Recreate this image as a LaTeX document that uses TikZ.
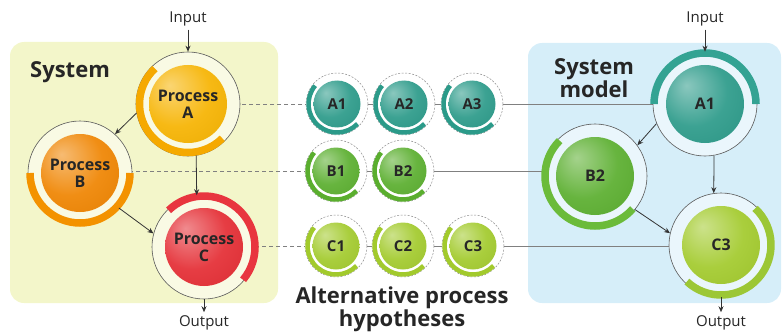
\documentclass[tikz,border=0pt]{standalone}
\usepackage{fontspec}
\setmainfont{Open Sans}
\usetikzlibrary{arrows.meta,calc}
\definecolor{ybg}{HTML}{F3F6CA}
\definecolor{bbg}{HTML}{D6EEF9}
\definecolor{cA}{HTML}{F6B300}
\definecolor{cAarc}{HTML}{F5A900}
\definecolor{cB}{HTML}{EF8400}
\definecolor{cBarc}{HTML}{F39200}
\definecolor{cC}{HTML}{E42C33}
\definecolor{cCarc}{HTML}{E8353F}
\definecolor{tA}{HTML}{2B9A89}
\definecolor{tAarc}{HTML}{33A393}
\definecolor{gB}{HTML}{5AAE2E}
\definecolor{gBarc}{HTML}{6BBB3A}
\definecolor{lC}{HTML}{A2CA2C}
\definecolor{lCarc}{HTML}{9CC735}
\colorlet{sphcol}{red}
\pgfdeclareradialshading[sphcol]{sphere}{\pgfpoint{-12bp}{12bp}}{%
  color(0bp)=(sphcol!55!white); color(22bp)=(sphcol!92!white); color(45bp)=(sphcol!95!black); color(62bp)=(sphcol!82!black)}
\pgfdeclarelayer{bg}
\pgfsetlayers{bg,main}
\newcommand\BigProc[9]{%
  \node[ring, fill=#3] (#1) at (#2) {};
  \draw[line width=7.5pt, draw=#5] ($(#1.center)+(#6:#9)$) arc[start angle=#6, end angle=#7, radius=#9];
  \colorlet{sphcol}{#4}%
  \shade[shading=sphere] (#1.center) circle[radius=39];
  \node[lbl] (#1-t) at (#1.center) {#8};
}
\newcommand\HypC[4]{%
  \node[hring] (#1) at (#2) {};
  \draw[line width=4.5pt, draw=#3] ($(#1.center)+(140:28.5)$) arc[start angle=140, end angle=316, radius=28.5];
  \colorlet{sphcol}{#3}%
  \shade[shading=sphere] (#1.center) circle[radius=23.5];
  \node[hlbl] (#1-t) at (#1.center) {#4};
}
\begin{document}
\begin{tikzpicture}[x=1pt,y=1pt,
  ring/.style={circle, draw=black!65, line width=0.6pt, inner sep=0pt, minimum size=104pt},
  hring/.style={circle, draw=black!45, dash pattern=on 2pt off 1.5pt, line width=0.5pt, fill=white, inner sep=0pt, minimum size=62pt},
  lbl/.style={font=\fontsize{16}{17}\selectfont\bfseries, text=black!85, align=center},
  hlbl/.style={font=\fontsize{15}{15}\selectfont\bfseries, text=black!85},
  io/.style={font=\fontsize{15}{15}\selectfont, text=black!85},
  ttl/.style={font=\fontsize{22}{23}\selectfont\bfseries, text=black!85, align=center},
  arr/.style={-{Stealth[length=6pt,width=5pt]}, line width=0.8pt, draw=black!80},
  link/.style={draw=black!50, line width=0.7pt},
  dlink/.style={link, dash pattern=on 4pt off 3pt},
]
\useasboundingbox (0,0) rectangle (783,-334);

% left system
\BigProc{pa}{188,-104}{ybg!50!white}{cA}{cAarc}{133}{315}{Process\\A}{48.5}
\BigProc{pb}{80,-173}{ybg!50!white}{cB}{cBarc}{180}{360}{Process\\B}{50}
\BigProc{pc}{204,-247}{ybg!50!white}{cC}{cCarc}{-40}{134}{Process\\C}{51}

% hypotheses
\HypC{a1}{337,-104}{tA}{A1}
\HypC{a2}{404,-104}{tA}{A2}
\HypC{a3}{472,-104}{tA}{A3}
\HypC{b1}{336,-171}{gB}{B1}
\HypC{b2}{403,-171}{gB}{B2}
\HypC{c1}{336,-246}{lC}{C1}
\HypC{c2}{403,-246}{lC}{C2}
\HypC{c3}{473,-246}{lC}{C3}

% system model
\BigProc{ma}{705,-104}{bbg!50!white}{tA}{tAarc}{0}{180}{A1}{51}
\BigProc{mb}{595,-176}{bbg!50!white}{gB}{gBarc}{135}{319}{B2}{50}
\BigProc{mc}{721,-245}{bbg!50!white}{lC}{lCarc}{-133}{47}{C3}{50}

% titles
\node[ttl] (tsys) at (70,-72) {System};
\node[ttl] (tmod) at (594,-78) {System\\model};
\node[ttl] (talt) at (402,-309) {Alternative process\\hypotheses};

% input/output
\node[io] (inL) at (188,-19) {Input};
\node[io] (outL) at (204,-323) {Output};
\node[io] (inR) at (705,-19) {Input};
\node[io] (outR) at (721,-323) {Output};

\draw[arr] (inL) -- (pa);
\draw[arr] (pc) -- (outL);
\draw[arr] (pa.190) -- (pb.48);
\draw[arr] (pa.-81) -- (pc.98);
\draw[arr] (pb.-42) -- (pc.165);

\draw[arr] (inR) -- (ma);
\draw[arr] (mc) -- (outR);
\draw[arr] (ma.202) -- (mb.36);
\draw[arr] (ma.-80) -- (mc.98);
\draw[arr] (mb.-40) -- (mc.167);

\begin{pgfonlayer}{bg}
  \fill[ybg, rounded corners=14pt] (10,-42) rectangle (278,-303);
  \fill[bbg, rounded corners=14pt] (528,-43) rectangle (781,-303);
  \draw[dlink] (a1.center) -- (a1.center -| pa.east);
  \draw[link] (a1.center) -- (ma.west);
  \draw[dlink] (b1.center) -- (b1.center -| pb.east);
  \draw[link] (b1.center) -- (b1.center -| mb.west);
  \draw[dlink] (c1.center) -- (c1.center -| pc.east);
  \draw[link] (c1.center) -- (c1.center -| mc.west);
\end{pgfonlayer}
\end{tikzpicture}
\end{document}
